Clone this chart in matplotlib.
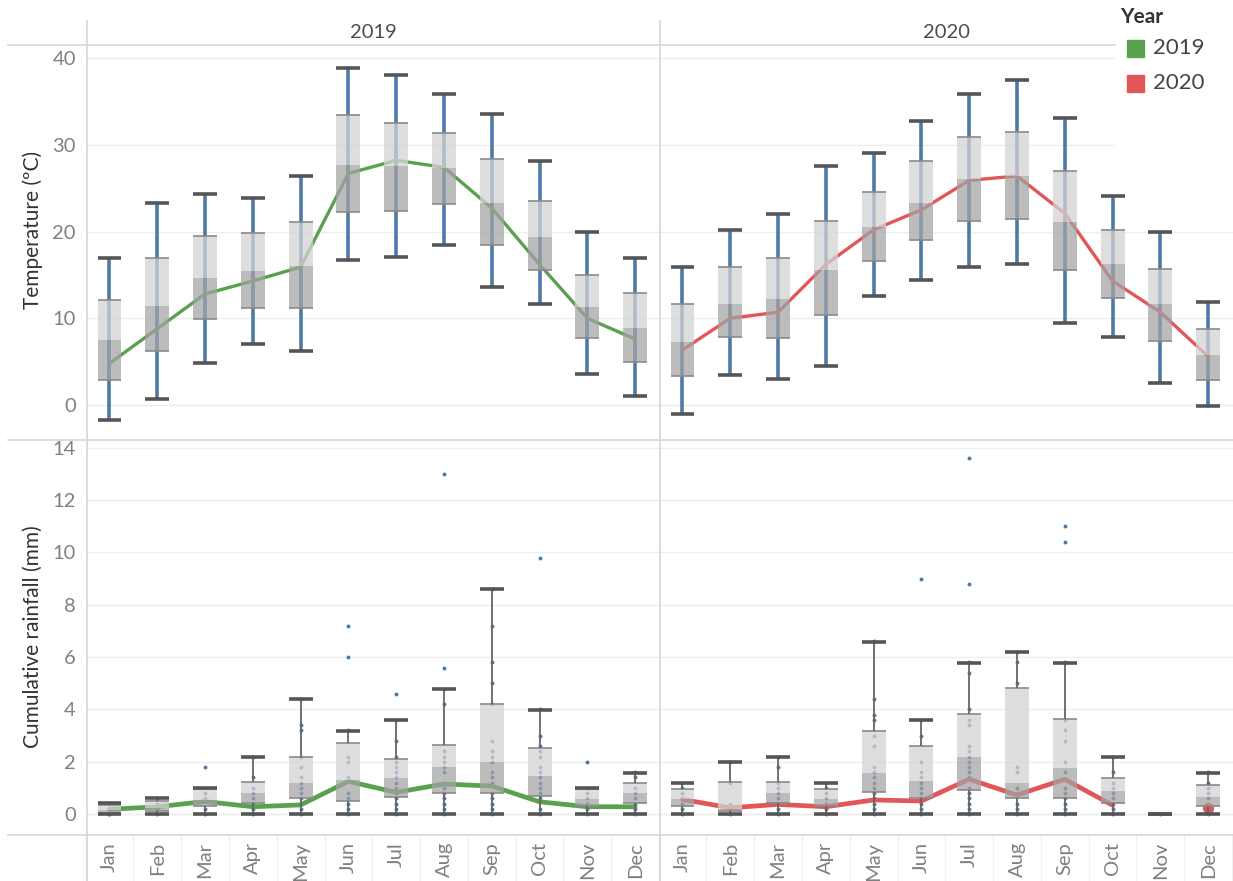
import numpy as np
import matplotlib.pyplot as plt
from matplotlib.lines import Line2D
from matplotlib.patches import Rectangle

plt.rcParams['font.family'] = ['Lato', 'DejaVu Sans']

months = ['Jan', 'Feb', 'Mar', 'Apr', 'May', 'Jun', 'Jul', 'Aug', 'Sep', 'Oct', 'Nov', 'Dec']
years = ['2019', '2020']
year_colors = {'2019': '#59a14f', '2020': '#e15759'}

# Temperature (ºC): whisker min, Q1, median, Q3, whisker max, line value
temp_min_2019 = [-1.7, 0.7, 4.9, 7.0, 6.2, 16.7, 17.1, 18.4, 13.6, 11.6, 3.6, 1.0]
temp_q1_2019 = [2.9, 6.2, 9.9, 11.2, 11.2, 22.3, 22.4, 23.2, 18.5, 15.6, 7.7, 5.0]
temp_med_2019 = [7.5, 11.4, 14.6, 15.5, 16.0, 27.7, 27.5, 27.3, 23.3, 19.4, 11.3, 8.9]
temp_q3_2019 = [12.05, 16.9, 19.5, 19.8, 21.1, 33.4, 32.5, 31.4, 28.4, 23.5, 15.0, 12.9]
temp_max_2019 = [17.0, 23.3, 24.3, 23.9, 26.4, 38.9, 38.0, 35.8, 33.6, 28.1, 19.9, 16.9]
temp_line_2019 = [4.8, 8.8, 12.8, 14.3, 15.9, 26.7, 28.2, 27.4, 22.7, 16.2, 10.0, 7.6]

temp_min_2020 = [-1.0, 3.5, 3.0, 4.5, 12.6, 14.4, 15.9, 16.3, 9.5, 7.9, 2.5, -0.1]
temp_q1_2020 = [3.3, 7.8, 7.7, 10.4, 16.6, 19.0, 21.2, 21.4, 15.6, 12.3, 7.4, 2.9]
temp_med_2020 = [7.3, 11.7, 12.2, 15.6, 20.5, 23.3, 26.0, 26.4, 21.1, 16.2, 11.6, 5.8]
temp_q3_2020 = [11.6, 15.9, 16.9, 21.2, 24.6, 28.1, 30.9, 31.5, 27.0, 20.2, 15.7, 8.8]
temp_max_2020 = [15.9, 20.2, 22.0, 27.5, 29.0, 32.7, 35.9, 37.5, 33.1, 24.1, 19.9, 11.9]
temp_line_2020 = [6.35, 10.0, 10.7, 16.2, 20.2, 22.5, 25.9, 26.4, 22.1, 14.3, 10.7, 5.6]

# Cumulative rainfall (mm)
rain_min_2019 = [0, 0, 0, 0, 0, 0, 0, 0, 0, 0, 0, 0]
rain_q1_2019 = [0.05, 0.1, 0.3, 0.41, 0.6, 0.5, 0.66, 0.82, 0.82, 0.69, 0.32, 0.41]
rain_med_2019 = [0.15, 0.25, 0.55, 0.82, 1.17, 1.3, 1.36, 1.79, 1.98, 1.45, 0.56, 0.79]
rain_q3_2019 = [0.35, 0.5, 0.95, 1.21, 2.19, 2.73, 2.1, 2.64, 4.2, 2.54, 0.95, 1.2]
rain_max_2019 = [0.41, 0.6, 0.98, 2.17, 4.4, 3.18, 3.6, 4.78, 8.6, 3.98, 0.98, 1.58]
rain_line_2019 = [0.18, 0.28, 0.48, 0.28, 0.35, 1.25, 0.83, 1.15, 1.07, 0.47, 0.28, 0.28]

rain_min_2020 = [0, 0, 0, 0, 0, 0, 0, 0, 0, 0, 0, 0]
rain_q1_2020 = [0.31, 0.11, 0.41, 0.31, 0.83, 0.6, 0.92, 0.6, 0.6, 0.41, 0, 0.31]
rain_med_2020 = [0.56, 0.18, 0.79, 0.56, 1.56, 1.26, 2.17, 1.17, 1.77, 0.88, 0, 0.66]
rain_q3_2020 = [0.94, 1.21, 1.21, 0.94, 3.19, 2.61, 3.81, 4.81, 3.62, 1.39, 0, 1.11]
rain_max_2020 = [1.2, 1.98, 2.17, 1.2, 6.57, 3.6, 5.77, 6.19, 5.77, 2.17, 0, 1.58]
rain_line_2020 = [0.56, 0.24, 0.37, 0.28, 0.54, 0.5, 1.33, 0.73, 1.33, 0.34, np.nan, 0.22]

# daily rainfall readings per month (dots)
rain_dots_2019 = [
    [0, 0, 0.2, 0.4],
    [0, 0.2, 0.4, 0.6],
    [0, 0.2, 0.6, 0.8, 1.8],
    [0, 0.2, 0.4, 0.6, 0.8, 1.0, 1.4, 2.2],
    [0, 0.2, 0.4, 0.6, 0.8, 1.0, 1.2, 1.4, 1.8, 2.2, 3.2, 3.4, 4.4],
    [0, 0.2, 0.4, 0.6, 0.8, 1.4, 2.0, 2.2, 3.2, 6.0, 7.2],
    [0, 0.2, 0.4, 0.6, 0.8, 1.0, 1.2, 1.4, 1.6, 1.8, 2.0, 2.2, 2.8, 3.6, 4.6],
    [0, 0.2, 0.4, 0.6, 0.8, 1.0, 1.2, 1.6, 1.8, 2.0, 2.2, 2.4, 4.2, 4.8, 5.6, 13.0],
    [0, 0.2, 0.4, 0.6, 0.8, 1.2, 1.4, 1.6, 2.0, 2.2, 2.4, 2.8, 4.2, 5.0, 5.8, 7.2, 8.6],
    [0, 0.2, 0.6, 0.8, 1.0, 1.2, 1.4, 1.6, 1.8, 2.2, 2.4, 2.6, 3.0, 4.0, 9.8],
    [0, 0.2, 0.4, 0.6, 0.8, 1.0, 2.0],
    [0, 0.2, 0.4, 0.6, 0.8, 1.0, 1.4, 1.6],
]
rain_dots_2020 = [
    [0, 0.2, 0.4, 0.6, 0.8, 1.0, 1.2],
    [0, 0.2, 0.4, 1.2, 2.0],
    [0, 0.2, 0.4, 0.6, 0.8, 1.0, 1.2, 1.8, 2.2],
    [0, 0.2, 0.4, 0.6, 0.8, 1.0, 1.2],
    [0, 0.2, 0.4, 0.6, 0.8, 1.0, 1.2, 1.4, 1.6, 1.8, 2.6, 3.0, 3.6, 3.8, 4.4, 6.6],
    [0, 0.2, 0.4, 0.6, 0.8, 1.0, 1.2, 1.4, 1.6, 2.0, 3.0, 3.6, 9.0],
    [0, 0.2, 0.4, 0.6, 0.8, 1.0, 1.4, 1.6, 1.8, 2.0, 2.2, 2.4, 2.6, 3.4, 3.6, 4.0, 5.4, 5.8, 8.8, 13.6],
    [0, 0.2, 0.4, 0.8, 1.0, 1.6, 1.8, 5.0, 5.8, 6.2],
    [0, 0.2, 0.4, 0.6, 0.8, 1.0, 1.6, 2.0, 2.8, 3.2, 3.6, 5.8, 10.4, 11.0],
    [0, 0.2, 0.4, 0.6, 0.8, 1.0, 1.2, 1.6, 2.2],
    [0],
    [0, 0.2, 0.4, 0.6, 0.8, 1.0, 1.2, 1.6],
]

W, H = 1233, 881
BLUE = '#4e79a7'
CAP = '#555555'
GRID = '#eeeeee'
SEP = '#d6d6d6'


def pos(x0, y0, x1, y1):
    return [x0 / W, 1 - y1 / H, (x1 - x0) / W, (y1 - y0) / H]


def draw_panel(ax, lo, q1, med, q3, hi, line, color, lw, temp, dots=None):
    x = np.arange(len(months))
    if temp:
        # dense daily dots read as a blue bar from min to max
        ax.vlines(x, lo, hi, color=BLUE, lw=2.6, zorder=1)
    else:
        for i, d in enumerate(dots):
            ax.scatter(np.full(len(d), i), d, s=8, color=BLUE, zorder=1, lw=0)
        ax.vlines(x, q3, hi, color='#666666', lw=1.3, zorder=4)
        ax.vlines(x, lo, q1, color='#666666', lw=1.3, zorder=4)
    line = np.array(line, dtype=float)
    ax.plot(x, line, color=color, lw=lw, zorder=2, solid_capstyle='round')
    ok = ~np.isnan(line)
    prev = np.r_[False, ok[:-1]]
    nxt = np.r_[ok[1:], False]
    single = ok & ~prev & ~nxt
    ax.plot(x[single], line[single], 'o', color=color, ms=7, zorder=2)
    med = np.array(med)
    ax.bar(x, np.array(q3) - med, bottom=med, width=0.5, color='#d4d4d4', alpha=0.75, zorder=3)
    ax.bar(x, med - np.array(q1), bottom=q1, width=0.5, color='#a3a3a3', alpha=0.72, zorder=3)
    ax.hlines(q3, x - 0.25, x + 0.25, color='#8a8a8a', lw=1.2, zorder=3.5)
    ax.hlines(q1, x - 0.25, x + 0.25, color='#8a8a8a', lw=1.2, zorder=3.5)
    ax.hlines(hi, x - 0.25, x + 0.25, color=CAP, lw=2.6, zorder=5)
    ax.hlines(lo, x - 0.25, x + 0.25, color=CAP, lw=2.6, zorder=5)


def style(ax, ylim, yticks, show_y, show_x):
    ax.set_xlim(-0.47, 11.52)
    ax.set_ylim(*ylim)
    for s in ax.spines.values():
        s.set_visible(False)
    ax.set_yticks(yticks)
    ax.grid(axis='y', color=GRID, lw=1, zorder=0)
    ax.set_axisbelow(True)
    ax.axhline(0, color='#bbbbbb', ls=(0, (1.5, 1.5)), lw=0.9, zorder=0.5)
    ax.tick_params(length=0, colors='#808080', labelsize=14.5)
    ax.tick_params(axis='y', pad=8)
    ax.set_xticks(range(len(months)))
    if show_x:
        ax.set_xticklabels(months, rotation=90, va='top')
        ax.tick_params(axis='x', pad=5)
        for i in range(len(months) + 1):
            ax.plot([i - 0.5, i - 0.5], [0, -0.115], color='#f0f0f0', lw=1,
                    transform=ax.get_xaxis_transform(), clip_on=False)
    else:
        ax.set_xticklabels([])
    if not show_y:
        ax.set_yticklabels([])


fig = plt.figure(figsize=(W / 100, H / 100), dpi=100)

ax_t19 = fig.add_axes(pos(87, 45, 660, 440))
ax_t20 = fig.add_axes(pos(660, 45, 1233, 440))
ax_r19 = fig.add_axes(pos(87, 440, 660, 835))
ax_r20 = fig.add_axes(pos(660, 440, 1233, 835))

draw_panel(ax_t19, temp_min_2019, temp_q1_2019, temp_med_2019, temp_q3_2019, temp_max_2019,
           temp_line_2019, year_colors['2019'], 2.4, True)
draw_panel(ax_t20, temp_min_2020, temp_q1_2020, temp_med_2020, temp_q3_2020, temp_max_2020,
           temp_line_2020, year_colors['2020'], 2.4, True)
draw_panel(ax_r19, rain_min_2019, rain_q1_2019, rain_med_2019, rain_q3_2019, rain_max_2019,
           rain_line_2019, year_colors['2019'], 3.4, False, rain_dots_2019)
draw_panel(ax_r20, rain_min_2020, rain_q1_2020, rain_med_2020, rain_q3_2020, rain_max_2020,
           rain_line_2020, year_colors['2020'], 3.4, False, rain_dots_2020)

style(ax_t19, (-4.03, 41.5), [0, 10, 20, 30, 40], True, False)
style(ax_t20, (-4.03, 41.5), [0, 10, 20, 30, 40], False, False)
style(ax_r19, (-0.8, 14.3), [0, 2, 4, 6, 8, 10, 12, 14], True, True)
style(ax_r20, (-0.8, 14.3), [0, 2, 4, 6, 8, 10, 12, 14], False, True)

# frame lines of the table layout
for x in (87, 660):
    fig.add_artist(Line2D([x / W, x / W], [1 - 21 / H, 0], color=SEP, lw=1.2))
fig.add_artist(Line2D([8 / W, 1120 / W], [1 - 45 / H] * 2, color=SEP, lw=1.2))
for y in (440, 835):
    fig.add_artist(Line2D([8 / W, 1], [1 - y / H] * 2, color=SEP, lw=1.2))

# column headers
fig.text(373 / W, 1 - 33 / H, years[0], ha='center', va='center', fontsize=14.5, color='#4d4d4d')
fig.text(946 / W, 1 - 33 / H, years[1], ha='center', va='center', fontsize=14.5, color='#4d4d4d')

fig.text(33 / W, 1 - 230 / H, 'Temperature (ºC)', rotation=90, ha='center', va='center',
         fontsize=15, color='#333333')
fig.text(33 / W, 1 - 637 / H, 'Cumulative rainfall (mm)', rotation=90, ha='center', va='center',
         fontsize=15, color='#333333')

# legend
fig.add_artist(Rectangle((1116 / W, 1 - 150 / H), 117 / W, 150 / H, transform=fig.transFigure,
                         color='white', zorder=10))
fig.text(1120 / W, 1 - 17 / H, 'Year', ha='left', va='center', fontsize=15, fontweight='bold',
         color='#333333', zorder=11)
for i, yr in enumerate(years):
    yc = 48 + 35 * i
    fig.add_artist(Rectangle((1127 / W, 1 - (yc + 9) / H), 17 / W, 17 / H, transform=fig.transFigure,
                             color=year_colors[yr], zorder=11))
    fig.text(1153 / W, 1 - yc / H, yr, ha='left', va='center', fontsize=16, color='#444444', zorder=11)

fig.savefig('out.png', dpi=100)
